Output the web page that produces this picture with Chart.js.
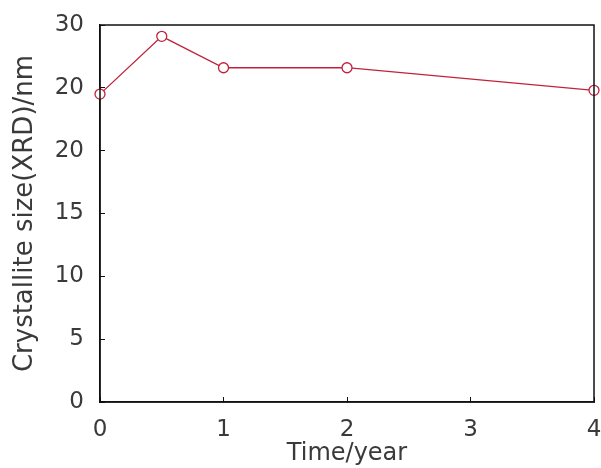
<!DOCTYPE html>
<html>
<head>
<meta charset="utf-8">
<script src="https://cdn.jsdelivr.net/npm/chart.js@4/dist/chart.umd.min.js"></script>
<style>
  html, body { margin: 0; padding: 0; background: #ffffff; }
  #wrap { width: 601px; height: 468px; }
</style>
</head>
<body>
<div id="wrap"><canvas id="c" width="601" height="468"></canvas></div>
<script>
// ---- data ----
const timeYears = [0, 0.5, 1, 2, 4];
const crystalliteSize = [24.5, 29.1, 26.6, 26.6, 24.8];
const xTickValues = [0, 1, 2, 3, 4];
const xTickLabels = ["0", "1", "2", "3", "4"];
const yTickValues = [0, 5, 10, 15, 20, 25, 30];
const yTickLabels = ["0", "5", "10", "15", "20", "20", "30"]; // as printed in the original

const FONT = "'DejaVu Sans', 'Liberation Sans', sans-serif";
const TEXT = "#3a3a3a";
const RED = "#c0223c";

const framePlugin = {
  id: 'frame',
  afterDraw(chart) {
    const { ctx, chartArea: a } = chart;
    ctx.save();
    ctx.strokeStyle = '#111';
    ctx.lineWidth = 1.5;
    ctx.strokeRect(a.left, a.top, a.right - a.left, a.bottom - a.top);
    ctx.restore();
  }
};

new Chart(document.getElementById('c'), {
  type: 'line',
  data: {
    datasets: [{
      data: timeYears.map((t, i) => ({ x: t, y: crystalliteSize[i] })),
      borderColor: RED,
      borderWidth: 1.3,
      pointRadius: 5,
      pointHoverRadius: 5,
      pointBackgroundColor: '#ffffff',
      pointBorderColor: RED,
      pointBorderWidth: 1.3,
      tension: 0,
      clip: false
    }]
  },
  options: {
    responsive: false,
    animation: false,
    devicePixelRatio: 1,
    layout: { padding: { top: 25, right: 7, left: 0, bottom: 0 } },
    plugins: { legend: { display: false }, tooltip: { enabled: false } },
    scales: {
      x: {
        type: 'linear',
        min: 0, max: 4,
        afterBuildTicks(scale) { scale.ticks = xTickValues.map(v => ({ value: v })); },
        afterFit(scale) { scale.height = 66; scale.paddingLeft = 0; scale.paddingRight = 0; },
        grid: { drawOnChartArea: false, drawTicks: true, tickLength: -5, color: '#111', lineWidth: 1 },
        border: { display: true, color: '#111', width: 1.5 },
        ticks: {
          padding: 19,
          color: TEXT,
          font: { family: FONT, size: 23 },
          maxRotation: 0,
          callback(v) { const i = xTickValues.indexOf(v); return i >= 0 ? xTickLabels[i] : ''; }
        },
        title: {
          display: true,
          text: 'Time/year',
          color: TEXT,
          font: { family: FONT, size: 24, lineHeight: 1.2 },
          padding: { top: 0, bottom: 0 }
        }
      },
      y: {
        type: 'linear',
        min: 0, max: 30,
        afterBuildTicks(scale) { scale.ticks = yTickValues.map(v => ({ value: v })); },
        afterFit(scale) { scale.width = 100; scale.paddingTop = 0; scale.paddingBottom = 0; },
        grid: { drawOnChartArea: false, drawTicks: true, tickLength: -5, color: '#111', lineWidth: 1 },
        border: { display: true, color: '#111', width: 1.5 },
        ticks: {
          padding: 21,
          color: TEXT,
          font: { family: FONT, size: 23 },
          callback(v) { const i = yTickValues.indexOf(v); return i >= 0 ? yTickLabels[i] : ''; }
        },
        title: {
          display: true,
          text: 'Crystallite size(XRD)/nm',
          color: TEXT,
          font: { family: FONT, size: 26, lineHeight: 1.2 },
          padding: { top: 10, bottom: 0 }
        }
      }
    }
  },
  plugins: [framePlugin]
});
</script>
</body>
</html>
